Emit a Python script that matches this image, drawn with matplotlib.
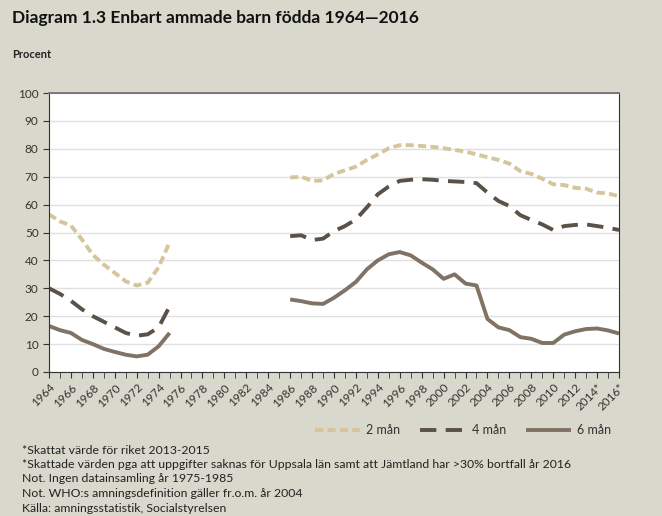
import matplotlib
matplotlib.use("Agg")
import matplotlib.pyplot as plt
import numpy as np

# data
years_a = list(range(1964, 1976))
man2_a = [56.5, 54, 52.5, 47.5, 42, 38.5, 35.5, 32.5, 31, 32, 37.5, 46.5]
man4_a = [30, 28, 25.5, 22.5, 20, 18, 16, 14, 13, 13.5, 16, 23.5]
man6_a = [16.5, 15, 14, 11.5, 10, 8.3, 7.2, 6.2, 5.6, 6.2, 9.2, 14]

years_b = list(range(1986, 2017))
man2_b = [69.7, 70, 68.5, 68.7, 71, 72.3, 73.6, 76, 78, 80.2, 81.3, 81.3, 81, 80.7, 80.2, 79.6,
          79, 78, 77, 76, 74.7, 72, 71, 69.3, 67.3, 67, 66, 65.7, 64.3, 64, 63]
man4_b = [48.7, 49, 47.3, 47.8, 50.5, 52.3, 54.7, 59, 63.7, 66.5, 68.5, 68.9, 69.1, 68.9, 68.5, 68.3,
          68.1, 67.7, 64.3, 61.3, 59.5, 56.2, 54.5, 52.9, 50.9, 52.3, 52.7, 52.9, 52.3, 51.7, 50.9]
man6_b = [26, 25.4, 24.6, 24.4, 26.6, 29.3, 32.3, 36.8, 40, 42.2, 43, 41.8, 39.2, 36.8, 33.4, 35,
          31.7, 31, 19, 16, 15, 12.5, 11.9, 10.4, 10.4, 13.4, 14.6, 15.4, 15.6, 14.9, 13.8]

tick_years = list(range(1964, 2017, 2))
tick_labels = [str(y) for y in tick_years]
tick_labels[-2] = "2014*"
tick_labels[-1] = "2016*"

bg = "#d9d8cc"
c2 = "#d6c59c"
c4 = "#5a5149"
c6 = "#807264"
lw = 2.8

plt.rcParams["font.family"] = ["Lato", "DejaVu Sans"]

fig = plt.figure(figsize=(6.62, 5.16), dpi=100, facecolor=bg)
ax = fig.add_axes([49 / 662, 1 - 372 / 516, 570 / 662, 279 / 516])
ax.set_facecolor("white")

for yrs, vals, c, d, lab in [(years_a, man2_a, c2, (2.1, 1.1), "2 mån"),
                             (years_b, man2_b, c2, (2.1, 1.1), None),
                             (years_a, man4_a, c4, (4.2, 2.4), "4 mån"),
                             (years_b, man4_b, c4, (4.2, 2.4), None),
                             (years_a, man6_a, c6, None, "6 mån"),
                             (years_b, man6_b, c6, None, None)]:
    line, = ax.plot(yrs, vals, color=c, lw=lw, label=lab, solid_capstyle="butt")
    if d is not None:
        line.set_dashes(d)
        line.set_dash_capstyle("butt")

ax.set_xlim(1964, 2016)
ax.set_ylim(0, 100)
ax.set_yticks(range(0, 101, 10))
ax.set_xticks(range(1964, 2017), minor=True)
ax.set_xticks(tick_years)
ax.set_xticklabels(tick_labels, rotation=45, ha="right", va="top", rotation_mode="anchor")
ax.tick_params(axis="x", which="both", length=4, direction="out", color="#333333",
               labelsize=8.5, labelcolor="#333333", pad=3)
ax.tick_params(axis="y", length=4, direction="out", color="#333333", labelsize=8.5, labelcolor="#333333")
ax.grid(axis="y", color="#e0e0e0", lw=1)
ax.set_axisbelow(True)
for s in ["left", "bottom", "right"]:
    ax.spines[s].set_color("#333333")
ax.spines["top"].set_color("#777777")
ax.spines["top"].set_linewidth(1.4)

ax.legend(loc="center", bbox_to_anchor=(463 / 662, 1 - 430 / 516), bbox_transform=fig.transFigure,
          ncol=3, frameon=False, fontsize=9, handlelength=3.6, handletextpad=0.5,
          columnspacing=1.6, labelcolor="#333333")

fig.text(12 / 662, 1 - 18 / 516, "Diagram 1.3 Enbart ammade barn födda 1964\u20142016",
         fontsize=12.5, fontweight="bold", color="#111111", va="center")
fig.text(12 / 662, 1 - 55 / 516, "Procent", fontsize=8, fontweight="bold", color="#222222", va="center")

notes = ["*Skattat värde för riket 2013-2015",
         "*Skattade värden pga att uppgifter saknas för Uppsala län samt att Jämtland har >30% bortfall år 2016",
         "Not. Ingen datainsamling år 1975-1985",
         "Not. WHO:s amningsdefinition gäller fr.o.m. år 2004"]
for i, n in enumerate(notes):
    fig.text(22 / 662, 1 - (450 + i * 14.5) / 516, n, fontsize=8.8, color="#222222", va="center")
fig.text(22 / 662, 1 - 509 / 516, "Källa: amningsstatistik, Socialstyrelsen", fontsize=8.8,
         color="#222222", va="center")

fig.savefig("out.png", dpi=100, facecolor=bg)
